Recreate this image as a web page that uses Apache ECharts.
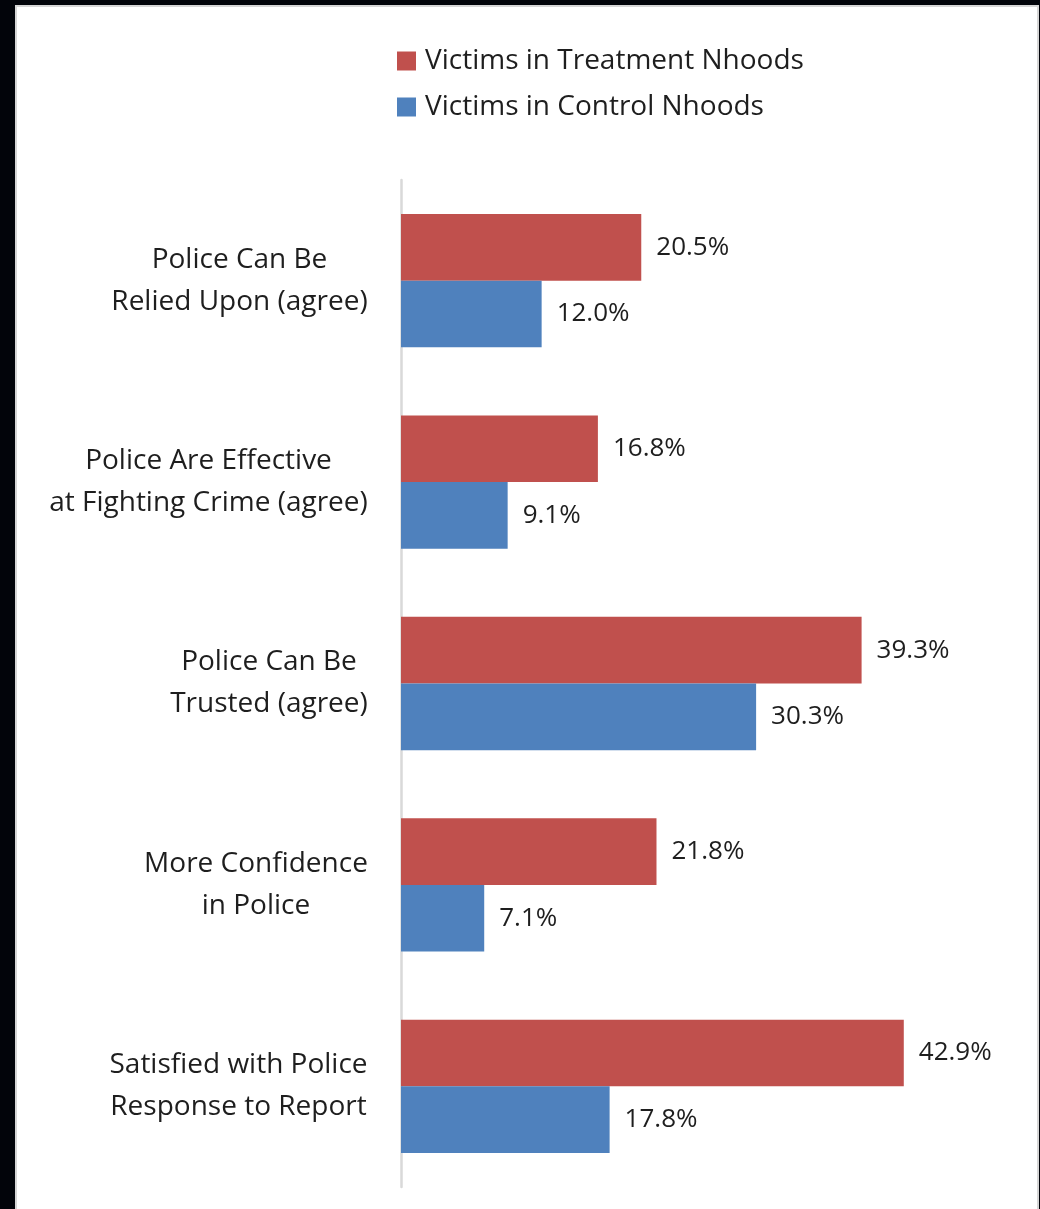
<!DOCTYPE html>
<html>
<head>
<meta charset="utf-8">
<title>Victims' Views of Police</title>
<script src="https://cdn.jsdelivr.net/npm/echarts@6/dist/echarts.min.js"></script>
<style>
  html, body { margin: 0; padding: 0; background: #02040a; }
  #panel {
    position: absolute; left: 15px; top: 5px; width: 1024px; height: 1204px;
    background: #ffffff; border: 2px solid #d6d6d6; border-bottom: none; box-sizing: border-box;
  }
  #chart { position: absolute; left: 0; top: 0; width: 1040px; height: 1209px; }
</style>
</head>
<body>
<div id="panel"></div>
<div id="chart"></div>
<script>
// Survey items (two-line labels)
const categories = [
  'Police Can Be\nRelied Upon (agree)',
  'Police Are Effective\nat Fighting Crime (agree)',
  'Police Can Be\nTrusted (agree)',
  'More Confidence\nin Police',
  'Satisfied with Police\nResponse to Report'
];
const seriesNames = ['Victims in Treatment Nhoods', 'Victims in Control Nhoods'];
const treatmentValues = [20.5, 16.8, 39.3, 21.8, 42.9];
const controlValues = [12.0, 9.1, 30.3, 7.1, 17.8];

const FONT = '"Open Sans", "Noto Sans", sans-serif';
const FS = 28;
const TEXT = '#1e1e1e';

// Each label block is right-aligned against the axis, lines centred within the block
const measure = document.createElement('canvas').getContext('2d');
measure.font = FS + 'px ' + FONT;
const rich = {};
categories.forEach((c, i) => {
  const w = Math.max(...c.split('\n').map(l => measure.measureText(l).width));
  rich['c' + i] = { width: Math.ceil(w) + 2, align: 'center', fontSize: FS, fontFamily: FONT, color: TEXT, lineHeight: 42 };
});

const valueLabel = {
  show: true, position: 'right', distance: 15, fontSize: 26, fontFamily: FONT, color: TEXT,
  formatter: p => p.value.toFixed(1) + '%'
};

const chart = echarts.init(document.getElementById('chart'), null, { renderer: 'canvas' });
chart.setOption({
  backgroundColor: 'transparent',
  animation: false,
  textStyle: { fontFamily: FONT },
  legend: {
    orient: 'vertical',
    left: 392,
    top: 41,
    itemWidth: 19,
    itemHeight: 19,
    itemGap: 16,
    icon: 'rect',
    data: seriesNames,
    textStyle: { fontSize: 28, fontFamily: FONT, color: TEXT, lineHeight: 30, padding: [0, 0, 0, 4] }
  },
  grid: { left: 401, top: 180, width: 586, height: 1007, containLabel: false },
  xAxis: { type: 'value', min: 0, max: 50, show: false },
  yAxis: {
    type: 'category',
    inverse: true,
    data: categories,
    axisLine: { show: true, lineStyle: { color: '#d9d9d9', width: 2.5 } },
    axisTick: { show: false },
    splitLine: { show: false },
    axisLabel: {
      margin: 32,
      align: 'right',
      formatter: (v, idx) => v.split('\n').map(l => '{c' + idx + '|' + l + '}').join('\n'),
      rich: rich
    }
  },
  series: [
    {
      name: seriesNames[0], type: 'bar', data: treatmentValues,
      barGap: 0, barCategoryGap: '33.8%',
      itemStyle: { color: '#c0504d' },
      label: valueLabel
    },
    {
      name: seriesNames[1], type: 'bar', data: controlValues,
      barGap: 0, barCategoryGap: '33.8%',
      itemStyle: { color: '#4f81bd' },
      label: valueLabel
    }
  ]
});
</script>
</body>
</html>
